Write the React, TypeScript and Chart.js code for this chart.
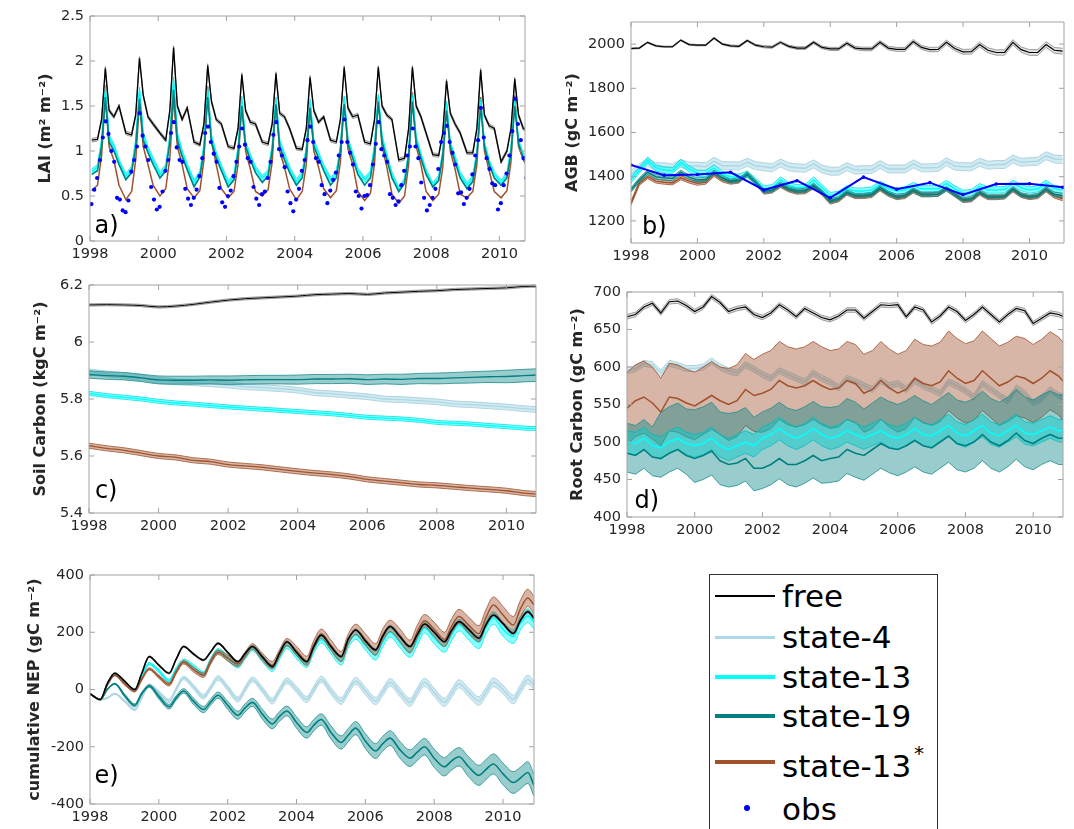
import React, { useEffect, useRef } from 'react';
import { Chart, registerables } from 'chart.js';

Chart.register(...registerables);

// ---------------- categories / ticks ----------------
const YEARS = [1998, 1999, 2000, 2001, 2002, 2003, 2004, 2005, 2006, 2007, 2008, 2009, 2010];
const X_TICKS = [1998, 2000, 2002, 2004, 2006, 2008, 2010];

// ---------------- a) LAI ----------------
const A_OFFSETS = [0.05, 0.22, 0.34, 0.45, 0.56, 0.7, 0.85];
const A_OBS_OFFSETS = [0.042, 0.125, 0.208, 0.292, 0.375, 0.458, 0.542, 0.625, 0.708, 0.792, 0.875, 0.958];
const A_Y_TICKS = [0, 0.5, 1, 1.5, 2, 2.5];
const A_FREE = [
  1.12, 1.13, 1.35, 1.92, 1.45, 1.38, 1.50,
  1.20, 1.18, 1.40, 2.03, 1.62, 1.38, 1.30,
  1.20, 1.12, 1.45, 2.15, 1.50, 1.35, 1.48,
  1.10, 1.07, 1.30, 1.95, 1.55, 1.35, 1.30,
  1.05, 1.03, 1.25, 1.85, 1.45, 1.32, 1.30,
  1.10, 1.08, 1.30, 1.86, 1.42, 1.38, 1.25,
  1.03, 1.02, 1.25, 1.82, 1.45, 1.32, 1.38,
  1.12, 1.10, 1.35, 1.93, 1.48, 1.38, 1.40,
  1.10, 1.08, 1.35, 1.93, 1.50, 1.40, 1.35,
  0.90, 0.92, 1.25, 1.93, 1.50, 1.38, 1.20,
  0.96, 0.95, 1.20, 1.78, 1.42, 1.30, 1.20,
  0.98, 0.98, 1.25, 1.90, 1.40, 1.28, 1.25,
  0.88, 1.00, 1.25, 1.80, 1.40, 1.25, 1.23,
];
const A_S13 = [
  0.77, 0.82, 1.10, 1.70, 1.15, 1.05, 0.88,
  0.72, 0.80, 1.10, 1.68, 1.18, 1.02, 0.90,
  0.74, 0.82, 1.15, 1.79, 1.18, 0.98, 0.83,
  0.65, 0.75, 1.05, 1.68, 1.15, 0.96, 0.82,
  0.64, 0.72, 1.02, 1.58, 1.08, 0.94, 0.80,
  0.70, 0.76, 1.04, 1.57, 1.10, 0.95, 0.80,
  0.66, 0.74, 1.02, 1.55, 1.10, 0.96, 0.82,
  0.68, 0.75, 1.04, 1.58, 1.12, 0.96, 0.78,
  0.68, 0.75, 1.05, 1.60, 1.15, 0.94, 0.74,
  0.57, 0.67, 0.98, 1.60, 1.14, 0.95, 0.77,
  0.62, 0.70, 0.98, 1.52, 1.08, 0.92, 0.74,
  0.62, 0.70, 0.98, 1.55, 1.08, 0.88, 0.74,
  0.65, 0.73, 1.02, 1.55, 1.10, 0.95, 0.88,
];
const A_S19 = [
  0.74, 0.78, 1.05, 1.60, 1.10, 1.00, 0.85,
  0.68, 0.76, 1.05, 1.58, 1.12, 0.98, 0.85,
  0.70, 0.78, 1.10, 1.68, 1.12, 0.94, 0.79,
  0.60, 0.71, 1.00, 1.60, 1.10, 0.92, 0.78,
  0.60, 0.68, 0.98, 1.50, 1.05, 0.90, 0.76,
  0.65, 0.72, 1.00, 1.52, 1.05, 0.90, 0.76,
  0.62, 0.70, 0.98, 1.48, 1.05, 0.92, 0.78,
  0.62, 0.70, 1.00, 1.52, 1.08, 0.92, 0.74,
  0.62, 0.70, 1.00, 1.55, 1.10, 0.90, 0.70,
  0.55, 0.64, 0.95, 1.55, 1.10, 0.92, 0.74,
  0.60, 0.67, 0.95, 1.45, 1.05, 0.88, 0.70,
  0.58, 0.66, 0.95, 1.50, 1.05, 0.85, 0.70,
  0.62, 0.70, 0.98, 1.50, 1.08, 0.92, 0.85,
];
const A_S13S = [
  0.56, 0.62, 0.95, 1.60, 1.05, 0.90, 0.62,
  0.46, 0.55, 0.90, 1.55, 1.05, 0.85, 0.62,
  0.50, 0.58, 0.92, 1.60, 1.05, 0.85, 0.58,
  0.48, 0.56, 0.90, 1.72, 1.10, 0.85, 0.58,
  0.48, 0.55, 0.85, 1.55, 1.00, 0.80, 0.55,
  0.50, 0.57, 0.88, 1.55, 1.00, 0.82, 0.58,
  0.46, 0.55, 0.85, 1.52, 1.00, 0.82, 0.58,
  0.48, 0.56, 0.88, 1.58, 1.02, 0.85, 0.55,
  0.45, 0.53, 0.86, 1.60, 1.05, 0.82, 0.52,
  0.42, 0.50, 0.85, 1.65, 1.05, 0.85, 0.55,
  0.45, 0.52, 0.82, 1.52, 1.00, 0.80, 0.52,
  0.48, 0.55, 0.85, 1.60, 1.00, 0.78, 0.55,
  0.48, 0.56, 0.88, 1.62, 1.05, 0.90, 0.82,
];
const A_OBS = [
  0.41, 0.57, 0.70, 0.90, 1.15, 1.33, 1.19, 1.00, 0.88, 0.48, 0.46, 0.34,
  0.32, 0.45, 0.77, 0.90, 1.05, 1.42, 1.17, 1.05, 0.90, 0.60, 0.46, 0.35,
  0.38, 0.55, 0.78, 0.90, 1.20, 1.32, 1.04, 0.90, 0.88, 0.58, 0.47, 0.40,
  0.48, 0.57, 0.72, 0.92, 1.20, 1.27, 1.10, 0.97, 0.88, 0.59, 0.43, 0.38,
  0.50, 0.56, 0.72, 0.88, 1.05, 1.25, 1.07, 0.92, 0.88, 0.60, 0.47, 0.40,
  0.52, 0.55, 0.70, 0.88, 1.18, 1.32, 1.02, 0.95, 0.82, 0.55, 0.42, 0.33,
  0.46, 0.58, 0.78, 0.90, 1.12, 1.27, 1.10, 0.92, 0.88, 0.62, 0.52, 0.42,
  0.56, 0.68, 0.76, 0.95, 1.10, 1.35, 1.10, 0.98, 0.85, 0.55, 0.50, 0.36,
  0.50, 0.51, 0.62, 0.85, 1.08, 1.32, 1.02, 0.95, 0.88, 0.52, 0.48, 0.40,
  0.44, 0.62, 0.78, 0.95, 1.05, 1.25, 1.05, 0.92, 0.65, 0.48, 0.34, 0.40,
  0.48, 0.58, 0.80, 1.10, 1.20, 1.28, 1.10, 0.98, 0.85, 0.53, 0.54, 0.41,
  0.48, 0.58, 0.74, 0.95, 1.12, 1.48, 1.15, 0.92, 0.80, 0.64, 0.62, 0.35,
  0.42, 0.62, 0.75, 0.95, 1.22, 1.58, 1.30, 1.12, 0.92, 0.70, 0.42, 0.45,
];
const A_FREE_SD = 0.02;
const A_S13_SD = 0.03;

// ---------------- b) AGB ----------------
const B_OFFSETS = [0.0, 0.25, 0.5, 0.75];
const B_END = 2011.0;
const B_Y_TICKS = [1200, 1400, 1600, 1800, 2000];
const B_FREE = [
  1980, 1982, 2008, 1992,
  1988, 1988, 2018, 1998,
  1995, 1995, 2027, 2000,
  1992, 1990, 2016, 1995,
  1988, 1986, 2008, 1990,
  1982, 1982, 2008, 1985,
  1978, 1978, 2004, 1982,
  1978, 1978, 2008, 1982,
  1976, 1976, 2012, 1985,
  1975, 1976, 2008, 1980,
  1965, 1966, 1998, 1972,
  1962, 1962, 2008, 1975,
  1962, 1962, 1998, 1972,
  1968,
];
const B_S4 = [
  1410, 1440, 1465, 1445,
  1445, 1440, 1460, 1448,
  1448, 1445, 1470, 1450,
  1450, 1448, 1465, 1450,
  1445, 1440, 1462, 1445,
  1440, 1438, 1458, 1435,
  1425, 1425, 1445, 1430,
  1432, 1432, 1455, 1435,
  1435, 1435, 1458, 1440,
  1440, 1442, 1468, 1448,
  1445, 1445, 1465, 1452,
  1455, 1455, 1480, 1465,
  1468, 1470, 1495, 1480,
  1478,
];
const B_S13 = [
  1385, 1430, 1475, 1440,
  1430, 1428, 1465, 1435,
  1415, 1415, 1440, 1410,
  1400, 1398, 1412, 1380,
  1345, 1350, 1385, 1360,
  1350, 1352, 1385, 1350,
  1315, 1320, 1345, 1335,
  1335, 1340, 1365, 1345,
  1335, 1340, 1360, 1345,
  1345, 1345, 1370, 1345,
  1325, 1328, 1355, 1340,
  1340, 1342, 1370, 1350,
  1340, 1345, 1370, 1345,
  1340,
];
const B_S19 = [
  1340, 1385, 1420, 1400,
  1395, 1392, 1420, 1398,
  1385, 1388, 1420, 1395,
  1380, 1385, 1410, 1375,
  1335, 1340, 1365, 1345,
  1335, 1338, 1360, 1330,
  1290, 1300, 1330, 1315,
  1315, 1320, 1350, 1325,
  1310, 1315, 1340, 1320,
  1320, 1322, 1345, 1320,
  1295, 1300, 1330, 1310,
  1310, 1312, 1345, 1318,
  1310, 1315, 1345, 1320,
  1315,
];
const B_S13S = [
  1280, 1370, 1400, 1380,
  1375, 1372, 1395, 1380,
  1370, 1375, 1410, 1385,
  1375, 1380, 1415, 1375,
  1330, 1335, 1360, 1340,
  1330, 1332, 1355, 1325,
  1285, 1295, 1325, 1310,
  1310, 1315, 1345, 1320,
  1305, 1310, 1335, 1318,
  1318, 1320, 1345, 1318,
  1292, 1295, 1325, 1305,
  1305, 1308, 1340, 1315,
  1305, 1310, 1340, 1312,
  1300,
];
const B_OBS_YEARS = [1998, 1999, 2000, 2001, 2002, 2003, 2004, 2005, 2006, 2007, 2008, 2009, 2010, 2011];
const B_OBS = [1453, 1407, 1410, 1420, 1340, 1382, 1304, 1398, 1343, 1373, 1319, 1367, 1368, 1352];
const B_FREE_SD = [3, 3, 3, 4, 5, 6, 7, 8, 9, 10, 11, 12, 13];
const B_S4_SD = 18;
const B_S13_SD = 14;
const B_S19_SD = 10;
const B_S13S_SD = 9;

// ---------------- c) Soil carbon ----------------
const C_OFFSETS = [0.0, 0.5];
const C_END = 2010.9;
const C_Y_TICKS = [5.4, 5.6, 5.8, 6, 6.2];
const C_FREE = [
  6.130, 6.131, 6.130, 6.128, 6.123, 6.126, 6.132, 6.140, 6.147, 6.152, 6.155, 6.158, 6.161,
  6.166, 6.168, 6.170, 6.167, 6.172, 6.175, 6.178, 6.180, 6.184, 6.186, 6.188, 6.190, 6.195,
  6.196,
];
const C_S4 = [
  5.895, 5.888, 5.882, 5.875, 5.866, 5.860, 5.857, 5.853, 5.849, 5.843, 5.840, 5.836, 5.831,
  5.822, 5.818, 5.813, 5.808, 5.800, 5.798, 5.794, 5.790, 5.783, 5.780, 5.776, 5.772, 5.766,
  5.763,
];
const C_S19 = [
  5.886, 5.882, 5.880, 5.874, 5.867, 5.866, 5.866, 5.867, 5.866, 5.867, 5.868, 5.868, 5.868,
  5.870, 5.870, 5.871, 5.868, 5.870, 5.869, 5.872, 5.872, 5.874, 5.876, 5.878, 5.879, 5.882,
  5.884,
];
const C_S13 = [
  5.820, 5.812, 5.806, 5.800, 5.792, 5.786, 5.782, 5.777, 5.772, 5.768, 5.764, 5.760, 5.756,
  5.752, 5.748, 5.742, 5.736, 5.733, 5.730, 5.725, 5.718, 5.715, 5.712, 5.707, 5.703, 5.698,
  5.696,
];
const C_S13S = [
  5.636, 5.627, 5.620, 5.610, 5.600, 5.595, 5.585, 5.580, 5.570, 5.565, 5.560, 5.553, 5.546,
  5.540, 5.535, 5.528, 5.518, 5.512, 5.506, 5.500, 5.497, 5.492, 5.487, 5.483, 5.478, 5.470,
  5.466,
];
const C_FREE_SD = 0.004;
const C_S4_SD = 0.01;
const C_S19_SD = [0.013, 0.013, 0.014, 0.014, 0.015, 0.015, 0.016, 0.016, 0.017, 0.018, 0.019, 0.02, 0.022];
const C_S13_SD = 0.007;
const C_S13S_SD = 0.009;

// ---------------- d) Root carbon ----------------
const D_OFFSETS = [0.0, 0.25, 0.5, 0.75];
const D_END = 2010.9;
const D_Y_TICKS = [400, 450, 500, 550, 600, 650, 700];
const D_FREE = [
  667, 670, 680, 685,
  672, 687, 688, 682,
  674, 680, 694, 686,
  674, 678, 680, 670,
  666, 672, 683, 676,
  667, 678, 672, 666,
  663, 668, 676, 676,
  665, 674, 683, 682,
  683, 667, 680, 676,
  660, 668, 680, 674,
  662, 670, 680, 670,
  660, 670, 678, 675,
  658, 665, 672, 670,
  667,
];
const D_S4 = [
  595, 598, 605, 603,
  592, 605, 602, 598,
  598, 600, 608, 600,
  595, 592, 603, 597,
  590, 585, 595, 590,
  585, 580, 592, 585,
  580, 572, 585, 580,
  575, 570, 582, 575,
  578, 570, 582, 575,
  570, 565, 580, 575,
  568, 560, 578, 570,
  562, 555, 572, 565,
  552, 558, 570, 562,
  560,
];
const D_S13S = [
  545, 555, 560, 552,
  540, 560, 558, 552,
  548, 555, 562, 555,
  550, 555, 570, 562,
  565, 570, 582, 575,
  572, 575, 582, 575,
  570, 572, 582, 578,
  565, 570, 582, 572,
  565, 570, 585, 578,
  575, 580, 595, 585,
  578, 582, 595, 585,
  575, 580, 588, 585,
  578, 585, 595, 588,
  580,
];
const D_S13 = [
  500, 498, 505, 495,
  492, 500, 505, 498,
  495, 498, 505, 495,
  490, 495, 500, 495,
  505, 510, 518, 510,
  505, 510, 518, 510,
  505, 508, 515, 510,
  505, 510, 515, 508,
  505, 510, 518, 510,
  508, 515, 522, 512,
  508, 515, 522, 512,
  508, 515, 522, 512,
  510, 515, 520, 515,
  515,
];
const D_S19 = [
  485, 482, 490, 480,
  478, 485, 490, 482,
  478, 482, 488, 475,
  470, 472, 478, 465,
  465, 470, 478, 470,
  470, 475, 482, 475,
  478, 480, 490, 485,
  482, 490, 498, 492,
  490, 495, 502, 495,
  492, 500, 508, 498,
  495, 500, 510, 500,
  495, 502, 512, 502,
  498, 505, 510, 505,
  505,
];
const D_FREE_SD = 3;
const D_S4_SD = 4;
const D_S13_SD = 15;
const D_S13S_SD = [48, 45, 45, 48, 52, 52, 52, 52, 52, 53, 53, 53, 52];
const D_S19_SD_LO = [25, 25, 32, 30, 27, 30, 32, 33, 35, 35, 35, 35, 35];
const D_S19_SD_HI = [40, 62, 65, 68, 75, 72, 68, 62, 60, 58, 58, 58, 58];

// ---------------- e) cumulative NEP ----------------
const E_OFFSETS = [0.0, 0.3, 0.5, 0.72];
const E_END = 2010.9;
const E_Y_TICKS = [-400, -200, 0, 200, 400];
const E_FREE = [
  -15, -35, 20, 57,
  30, 0, 55, 115,
  85, 57, 105, 150,
  125, 103, 130, 161,
  130, 97, 125, 150,
  115, 80, 125, 167,
  130, 97, 150, 190,
  150, 115, 175, 208,
  170, 138, 185, 220,
  185, 150, 190, 229,
  200, 167, 205, 237,
  210, 179, 225, 260,
  230, 196, 240, 272,
  249,
];
const E_S13S = [
  -15, -35, 15, 50,
  20, -5, 35, 72,
  45, 18, 60, 95,
  70, 50, 95, 130,
  110, 90, 120, 150,
  115, 85, 125, 165,
  135, 100, 155, 195,
  155, 115, 175, 210,
  175, 140, 190, 222,
  190, 150, 200, 240,
  210, 175, 220, 255,
  225, 195, 250, 295,
  260, 225, 280, 320,
  295,
];
const E_S13 = [
  -15, -35, 18, 52,
  25, -3, 45, 90,
  65, 30, 70, 100,
  80, 55, 100, 135,
  110, 85, 115, 145,
  110, 75, 115, 155,
  120, 90, 140, 175,
  140, 100, 160, 190,
  155, 120, 165, 200,
  165, 130, 170, 215,
  180, 150, 190, 225,
  195, 165, 215, 250,
  210, 185, 230, 258,
  235,
];
const E_S19 = [
  -15, -35, 0, 20,
  -20, -55, -15, 12,
  -25, -60, -30, -5,
  -40, -70, -45, -20,
  -55, -90, -65, -45,
  -85, -120, -95, -75,
  -115, -150, -125, -105,
  -150, -185, -160, -135,
  -180, -215, -190, -170,
  -210, -240, -220, -200,
  -240, -270, -250, -235,
  -270, -300, -280, -260,
  -295, -325, -310, -290,
  -335,
];
const E_S4 = [
  -15, -35, -30, -15,
  -40, -70, -30, 15,
  -10, -40, 0, 40,
  10, -25, 5, 40,
  5, -35, 0, 35,
  0, -40, -5, 30,
  0, -35, 0, 35,
  -5, -40, -5, 30,
  -5, -40, -10, 25,
  -10, -45, -10, 25,
  -10, -45, -15, 20,
  -10, -40, -10, 25,
  0, -35, 0, 35,
  15,
];
const E_FREE_SD = [2, 2, 3, 3, 3, 4, 4, 4, 5, 5, 5, 6, 6];
const E_S4_SD = [2, 4, 6, 8, 9, 10, 11, 12, 13, 14, 14, 15, 15];
const E_S13_SD = [2, 4, 6, 8, 10, 12, 13, 15, 17, 18, 20, 22, 24];
const E_S19_SD = [2, 5, 8, 11, 14, 17, 20, 23, 26, 29, 32, 35, 38];
const E_S13S_SD = [2, 4, 6, 8, 10, 13, 16, 18, 20, 22, 25, 28, 30];

// ---------------- styles ----------------
const COL = {
  free: '#000000',
  s4: '#add8e6',
  s13: '#00ffff',
  s19: '#008080',
  s13s: '#a0522d',
  obs: '#0000ff',
};
const EDGE = {
  free: '#858585',
  s4: '#9fcad8',
  s13: '#00e0e0',
  s19: '#1f8f8f',
  s13s: '#a0522d',
};
const FILL = {
  free: 'rgba(128,128,128,0.22)',
  s4: 'rgba(173,216,230,0.55)',
  s13: 'rgba(0,255,255,0.45)',
  s19: 'rgba(0,128,128,0.4)',
  s13s: 'rgba(160,82,45,0.42)',
};
const FONT = 'DejaVu Sans';
const TICK_COLOR = '#262626';

// ---------------- helpers ----------------
function times(offsets: number[], end?: number): number[] {
  const t: number[] = [];
  YEARS.forEach((y) => offsets.forEach((o) => t.push(y + o)));
  if (end !== undefined) t.push(end);
  return t;
}
type Spread = number | number[];
function spreadAt(s: Spread, i: number, per: number): number {
  if (Array.isArray(s)) return s[Math.min(Math.floor(i / per), s.length - 1)];
  return s;
}
function line(t: number[], v: number[], color: string, width: number, extra: any = {}) {
  return {
    data: v.map((y, i) => ({ x: t[i], y })),
    borderColor: color,
    backgroundColor: color,
    borderWidth: width,
    pointRadius: 0,
    fill: false,
    ...extra,
  };
}
function band(t: number[], v: number[], lo: Spread, hi: Spread, per: number, key: string, extra: any = {}) {
  const edge = (EDGE as any)[key];
  const fill = (FILL as any)[key];
  return [
    {
      data: v.map((y, i) => ({ x: t[i], y: y - spreadAt(lo, i, per) })),
      borderColor: edge,
      borderWidth: 0.8,
      pointRadius: 0,
      fill: false,
      ...extra,
    },
    {
      data: v.map((y, i) => ({ x: t[i], y: y + spreadAt(hi, i, per) })),
      borderColor: edge,
      borderWidth: 0.8,
      pointRadius: 0,
      backgroundColor: fill,
      fill: '-1',
      ...extra,
    },
  ];
}

// ---------------- panels ----------------
interface PanelSpec {
  id: string;
  box: { left: number; top: number; width: number; height: number };
  plot: { l: number; t: number; r: number; b: number };
  xMax: number;
  yMin: number;
  yMax: number;
  yTicks: number[];
  title: string;
  titleX: number;
  label: { text: string; x: number; y: number };
  build: () => any[];
}

const PANELS: PanelSpec[] = [
  {
    id: 'a',
    box: { left: 0, top: 0, width: 545, height: 265 },
    plot: { l: 90, t: 16, r: 525, b: 241 },
    xMax: 2010.75,
    yMin: 0,
    yMax: 2.5,
    yTicks: A_Y_TICKS,
    title: 'LAI (m² m⁻²)',
    titleX: 45.5,
    label: { text: 'a)', x: 1998.13, y: 0.09 },
    build: () => {
      const t = times(A_OFFSETS);
      const per = A_OFFSETS.length;
      const tObs = times(A_OBS_OFFSETS);
      return [
        line(t, A_S13S, COL.s13s, 1.5),
        ...band(t, A_S13, A_S13_SD, A_S13_SD, per, 's13'),
        line(t, A_S13, COL.s13, 1.5),
        line(t, A_S19, COL.s19, 1.6),
        ...band(t, A_FREE, A_FREE_SD, A_FREE_SD, per, 'free'),
        line(t, A_FREE, COL.free, 1.3),
        {
          data: A_OBS.map((y, i) => ({ x: tObs[i], y })),
          showLine: false,
          pointRadius: 2.1,
          pointBorderWidth: 0,
          pointBackgroundColor: COL.obs,
          borderColor: COL.obs,
          backgroundColor: COL.obs,
        },
      ];
    },
  },
  {
    id: 'b',
    box: { left: 545, top: 0, width: 529, height: 265 },
    plot: { l: 631, t: 22, r: 1064, b: 243 },
    xMax: 2011.04,
    yMin: 1100,
    yMax: 2100,
    yTicks: B_Y_TICKS,
    title: 'AGB (gC m⁻²)',
    titleX: 573,
    label: { text: 'b)', x: 1998.33, y: 1141 },
    build: () => {
      const t = times(B_OFFSETS, B_END);
      const per = B_OFFSETS.length;
      return [
        ...band(t, B_S4, B_S4_SD, B_S4_SD, per, 's4'),
        line(t, B_S4, COL.s4, 1.5),
        ...band(t, B_S13S, B_S13S_SD, B_S13S_SD, per, 's13s'),
        line(t, B_S13S, COL.s13s, 1.5),
        ...band(t, B_S13, B_S13_SD, B_S13_SD, per, 's13'),
        line(t, B_S13, COL.s13, 1.5),
        ...band(t, B_S19, B_S19_SD, B_S19_SD, per, 's19'),
        line(t, B_S19, COL.s19, 1.6),
        ...band(t, B_FREE, B_FREE_SD, B_FREE_SD, per, 'free'),
        line(t, B_FREE, COL.free, 1.2),
        {
          data: B_OBS.map((y, i) => ({ x: B_OBS_YEARS[i], y })),
          borderColor: COL.obs,
          backgroundColor: COL.obs,
          borderWidth: 2,
          pointRadius: 1.8,
          pointBorderWidth: 0,
          pointBackgroundColor: COL.obs,
          fill: false,
        },
      ];
    },
  },
  {
    id: 'c',
    box: { left: 0, top: 265, width: 545, height: 275 },
    plot: { l: 89, t: 285, r: 536, b: 513 },
    xMax: 2010.85,
    yMin: 5.4,
    yMax: 6.2,
    yTicks: C_Y_TICKS,
    title: 'Soil Carbon (kgC m⁻²)',
    titleX: 41,
    label: { text: 'c)', x: 1998.17, y: 5.453 },
    build: () => {
      const t = times(C_OFFSETS, C_END);
      const per = C_OFFSETS.length;
      const sm = { cubicInterpolationMode: 'monotone' };
      return [
        ...band(t, C_S13S, C_S13S_SD, C_S13S_SD, per, 's13s', sm),
        line(t, C_S13S, COL.s13s, 1.3, sm),
        ...band(t, C_S13, C_S13_SD, C_S13_SD, per, 's13', sm),
        line(t, C_S13, COL.s13, 1.3, sm),
        ...band(t, C_S4, C_S4_SD, C_S4_SD, per, 's4', sm),
        line(t, C_S4, COL.s4, 1.3, sm),
        ...band(t, C_S19, C_S19_SD, C_S19_SD, per, 's19', sm),
        line(t, C_S19, COL.s19, 1.4, sm),
        ...band(t, C_FREE, C_FREE_SD, C_FREE_SD, per, 'free', sm),
        line(t, C_FREE, COL.free, 1.0, sm),
      ];
    },
  },
  {
    id: 'd',
    box: { left: 545, top: 270, width: 529, height: 275 },
    plot: { l: 627, t: 292, r: 1063, b: 517 },
    xMax: 2010.88,
    yMin: 400,
    yMax: 700,
    yTicks: D_Y_TICKS,
    title: 'Root Carbon (gC m⁻²)',
    titleX: 578,
    label: { text: 'd)', x: 1998.22, y: 412 },
    build: () => {
      const t = times(D_OFFSETS, D_END);
      const per = D_OFFSETS.length;
      return [
        ...band(t, D_FREE, D_FREE_SD, D_FREE_SD, per, 'free'),
        line(t, D_FREE, COL.free, 1.2),
        ...band(t, D_S4, D_S4_SD, D_S4_SD, per, 's4'),
        line(t, D_S4, COL.s4, 1.5),
        ...band(t, D_S13S, D_S13S_SD, D_S13S_SD, per, 's13s'),
        ...band(t, D_S13, D_S13_SD, D_S13_SD, per, 's13'),
        ...band(t, D_S19, D_S19_SD_LO, D_S19_SD_HI, per, 's19'),
        line(t, D_S13, COL.s13, 1.5),
        line(t, D_S19, COL.s19, 1.6),
        line(t, D_S13S, COL.s13s, 1.5),
      ];
    },
  },
  {
    id: 'e',
    box: { left: 0, top: 550, width: 545, height: 279 },
    plot: { l: 90, t: 575, r: 534, b: 804 },
    xMax: 2010.9,
    yMin: -400,
    yMax: 400,
    yTicks: E_Y_TICKS,
    title: 'cumulative NEP (gC m⁻²)',
    titleX: 35,
    label: { text: 'e)', x: 1998.13, y: -326 },
    build: () => {
      const t = times(E_OFFSETS, E_END);
      const per = E_OFFSETS.length;
      const sm = { cubicInterpolationMode: 'monotone' };
      return [
        ...band(t, E_S4, E_S4_SD, E_S4_SD, per, 's4', sm),
        line(t, E_S4, COL.s4, 1.5, sm),
        ...band(t, E_S19, E_S19_SD, E_S19_SD, per, 's19', sm),
        line(t, E_S19, COL.s19, 1.6, sm),
        ...band(t, E_S13, E_S13_SD, E_S13_SD, per, 's13', sm),
        line(t, E_S13, COL.s13, 1.5, sm),
        ...band(t, E_S13S, E_S13S_SD, E_S13S_SD, per, 's13s', sm),
        line(t, E_S13S, COL.s13s, 1.5, sm),
        ...band(t, E_FREE, E_FREE_SD, E_FREE_SD, per, 'free', sm),
        line(t, E_FREE, COL.free, 1.6, sm),
      ];
    },
  },
];

// ---------------- plugins ----------------
const framePlugin = {
  id: 'matlabFrame',
  afterDatasetsDraw(chart: any) {
    const { ctx, chartArea } = chart;
    const { left, right, top, bottom } = chartArea;
    const xs = chart.scales.x;
    const ys = chart.scales.y;
    const L = 5;
    ctx.save();
    ctx.strokeStyle = '#a3a3a3';
    ctx.lineWidth = 1;
    ctx.beginPath();
    ctx.rect(left, top, right - left, bottom - top);
    xs.ticks.forEach((tk: any) => {
      const p = xs.getPixelForValue(tk.value);
      ctx.moveTo(p, bottom);
      ctx.lineTo(p, bottom - L);
      ctx.moveTo(p, top);
      ctx.lineTo(p, top + L);
    });
    ys.ticks.forEach((tk: any) => {
      const p = ys.getPixelForValue(tk.value);
      ctx.moveTo(left, p);
      ctx.lineTo(left + L, p);
      ctx.moveTo(right, p);
      ctx.lineTo(right - L, p);
    });
    ctx.stroke();
    ctx.restore();
  },
};

function makeLabelPlugin(label: { text: string; x: number; y: number }) {
  return {
    id: 'panelLabel',
    afterDraw(chart: any) {
      const { ctx } = chart;
      ctx.save();
      ctx.font = `24px "${FONT}"`;
      ctx.fillStyle = '#000';
      ctx.textBaseline = 'alphabetic';
      ctx.textAlign = 'left';
      ctx.fillText(label.text, chart.scales.x.getPixelForValue(label.x), chart.scales.y.getPixelForValue(label.y));
      ctx.restore();
    },
  };
}

// ---------------- components ----------------
function Panel({ spec }: { spec: PanelSpec }) {
  const ref = useRef<HTMLCanvasElement>(null);
  useEffect(() => {
    const { box, plot } = spec;
    const datasets = spec.build();
    const n = datasets.length;
    datasets.forEach((d: any, i: number) => {
      d.order = n - i;
    });
    const titleFont = { family: FONT, size: 16, weight: 'bold' as const, lineHeight: 1.2 };
    const tickFont = { family: FONT, size: 14.5 };
    const chart = new Chart(ref.current as HTMLCanvasElement, {
      type: 'line',
      data: { datasets },
      options: {
        animation: false,
        responsive: false,
        maintainAspectRatio: false,
        devicePixelRatio: 1,
        layout: {
          padding: {
            left: 0,
            bottom: 0,
            top: plot.t - box.top,
            right: box.left + box.width - plot.r,
          },
        },
        plugins: {
          legend: { display: false },
          tooltip: { enabled: false },
        },
        elements: { line: { tension: 0 } },
        scales: {
          x: {
            type: 'linear',
            min: 1998,
            max: spec.xMax,
            grid: { display: false, drawTicks: false },
            border: { display: false },
            afterBuildTicks: (s: any) => {
              s.ticks = X_TICKS.map((v) => ({ value: v }));
            },
            afterFit: (s: any) => {
              s.height = box.top + box.height - plot.b;
            },
            ticks: {
              font: tickFont,
              color: TICK_COLOR,
              padding: 5,
              maxRotation: 0,
              autoSkip: false,
              callback: (v: any) => String(v),
            },
          },
          y: {
            type: 'linear',
            min: spec.yMin,
            max: spec.yMax,
            grid: { display: false, drawTicks: false },
            border: { display: false },
            afterBuildTicks: (s: any) => {
              s.ticks = spec.yTicks.map((v) => ({ value: v }));
            },
            afterFit: (s: any) => {
              s.width = plot.l - box.left;
            },
            ticks: {
              font: tickFont,
              color: TICK_COLOR,
              padding: 6,
              autoSkip: false,
              callback: (v: any) => String(v),
            },
            title: {
              display: true,
              text: spec.title,
              color: TICK_COLOR,
              font: titleFont,
              padding: { top: spec.titleX - box.left - (16 * 1.2) / 2, bottom: 0 },
            },
          },
        },
      } as any,
      plugins: [framePlugin, makeLabelPlugin(spec.label)],
    });
    return () => chart.destroy();
  }, [spec]);
  const { box } = spec;
  return (
    <canvas
      ref={ref}
      width={box.width}
      height={box.height}
      style={{ position: 'absolute', left: box.left, top: box.top, width: box.width, height: box.height }}
    />
  );
}

const LEGEND_ITEMS = [
  { label: 'free', color: COL.free, w: 1.5, lineY: 596, baseY: 607, kind: 'line' },
  { label: 'state-4', color: COL.s4, w: 3.5, lineY: 637.5, baseY: 648, kind: 'line' },
  { label: 'state-13', color: COL.s13, w: 3.5, lineY: 677, baseY: 688, kind: 'line' },
  { label: 'state-19', color: COL.s19, w: 3.5, lineY: 716, baseY: 727, kind: 'line' },
  { label: 'state-13', color: COL.s13s, w: 3.5, lineY: 762, baseY: 777, kind: 'line', star: true },
  { label: 'obs', color: COL.obs, w: 6, lineY: 808, baseY: 820, kind: 'dot' },
];

function Legend() {
  const fs = 31;
  return (
    <div>
      <div
        style={{
          position: 'absolute',
          left: 709,
          top: 574,
          width: 229,
          height: 300,
          border: '1px solid #333',
          boxSizing: 'border-box',
          background: '#fff',
        }}
      />
      {LEGEND_ITEMS.map((it, i) => (
        <React.Fragment key={i}>
          {it.kind === 'line' ? (
            <div
              style={{
                position: 'absolute',
                left: 715,
                width: 60,
                top: it.lineY - it.w / 2,
                height: it.w,
                background: it.color,
              }}
            />
          ) : (
            <div
              style={{
                position: 'absolute',
                left: 747 - it.w / 2,
                top: it.lineY - it.w / 2,
                width: it.w,
                height: it.w,
                borderRadius: '50%',
                background: it.color,
              }}
            />
          )}
          <span
            style={{
              position: 'absolute',
              left: 782,
              top: it.baseY - 0.846 * fs,
              fontSize: fs,
              lineHeight: `${fs}px`,
              fontFamily: FONT,
              color: '#000',
              whiteSpace: 'nowrap',
            }}
          >
            {it.label}
          </span>
          {it.star ? (
            <span
              style={{
                position: 'absolute',
                left: 914,
                top: 742.5,
                fontSize: 20,
                lineHeight: '20px',
                fontFamily: FONT,
                color: '#000',
              }}
            >
              *
            </span>
          ) : null}
        </React.Fragment>
      ))}
    </div>
  );
}

export default function App() {
  return (
    <div
      style={{
        position: 'fixed',
        left: 0,
        top: 0,
        width: 1074,
        height: 829,
        overflow: 'hidden',
        background: '#fff',
        fontFamily: FONT,
      }}
    >
      {PANELS.map((p) => (
        <Panel key={p.id} spec={p} />
      ))}
      <Legend />
    </div>
  );
}
